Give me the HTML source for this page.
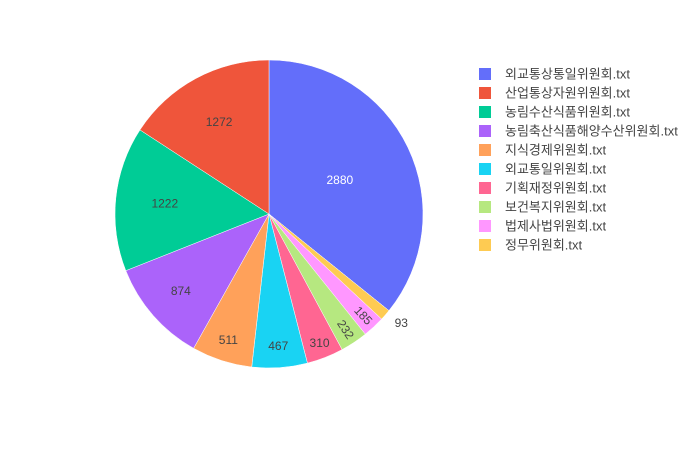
<!DOCTYPE html>
<html><head><meta charset="utf-8"><style>
body{margin:0;background:#fff;font-family:"Liberation Sans","Noto Sans CJK KR",sans-serif;}
svg text{font-family:"Liberation Sans","Noto Sans CJK KR",sans-serif;font-size:12px;}
svg text.leg{font-size:13px;}
</style></head><body>
<svg id="chart" width="700" height="450"></svg>
<script>
const labels=["외교통상통일위원회.txt","산업통상자원위원회.txt","농림수산식품위원회.txt","농림축산식품해양수산위원회.txt","지식경제위원회.txt","외교통일위원회.txt","기획재정위원회.txt","보건복지위원회.txt","법제사법위원회.txt","정무위원회.txt"];
const values=[2880,1272,1222,874,511,467,310,232,185,93];
const colors=["#636efa","#EF553B","#00cc96","#ab63fa","#FFA15A","#19d3f3","#FF6692","#B6E880","#FF97FF","#FECB52"];
const NS="http://www.w3.org/2000/svg";
const svg=document.getElementById('chart');
const cx=269,cy=214,R=154;
const total=values.reduce((a,b)=>a+b,0);
function pt(a,r){const t=a*Math.PI/180;return [cx+r*Math.sin(t),cy-r*Math.cos(t)];}
const order=[0];for(let i=values.length-1;i>=1;i--)order.push(i);
let ang=0;
const gS=document.createElementNS(NS,'g');svg.appendChild(gS);
const gT=document.createElementNS(NS,'g');svg.appendChild(gT);
order.forEach(i=>{
  const span=values[i]/total*360;const a0=ang,a1=ang+span;ang=a1;
  const p0=pt(a0,R),p1=pt(a1,R);
  const p=document.createElementNS(NS,'path');
  p.setAttribute('d',`M${cx},${cy}L${p0[0]},${p0[1]}A${R},${R} 0 ${span>180?1:0} 1 ${p1[0]},${p1[1]}Z`);
  p.setAttribute('fill',colors[i]);p.setAttribute('stroke','#fff');p.setAttribute('stroke-width','0.5');
  
  
  gS.appendChild(p);
  const mid=(a0+a1)/2;
  const t=document.createElementNS(NS,'text');
  t.textContent=values[i];
  t.setAttribute('text-anchor','middle');t.setAttribute('dominant-baseline','central');
  t.setAttribute('fill',i===0?'#fff':'#444');
  let pos;
  if(span<5){pos=pt(mid,R*1.08);t.setAttribute('text-anchor','start');}
  else if(span<12){pos=pt(mid,R*0.9);t.setAttribute('transform',`rotate(${mid-90} ${pos[0]} ${pos[1]})`);}
  else{
    const f=span>100?0.51:span>50?0.68:span>30?0.76:span>18?0.86:0.9;
    pos=pt(mid,R*f);
  }
  t.setAttribute('x',pos[0]);t.setAttribute('y',pos[1]);
  
  
  gT.appendChild(t);
});
labels.forEach((l,i)=>{
  const y=74+i*19;
  const g=document.createElementNS(NS,'g');
  
  
  const r=document.createElementNS(NS,'rect');
  r.setAttribute('x',479);r.setAttribute('y',y-6);r.setAttribute('width',12);r.setAttribute('height',12);
  r.setAttribute('fill',colors[i]);g.appendChild(r);
  const t=document.createElementNS(NS,'text');
  t.setAttribute('class','leg');
  t.setAttribute('x',505);t.setAttribute('y',y);t.setAttribute('dominant-baseline','central');
  t.setAttribute('fill','#444');t.textContent=l;g.appendChild(t);
  svg.appendChild(g);
});
</script>
</body></html>
